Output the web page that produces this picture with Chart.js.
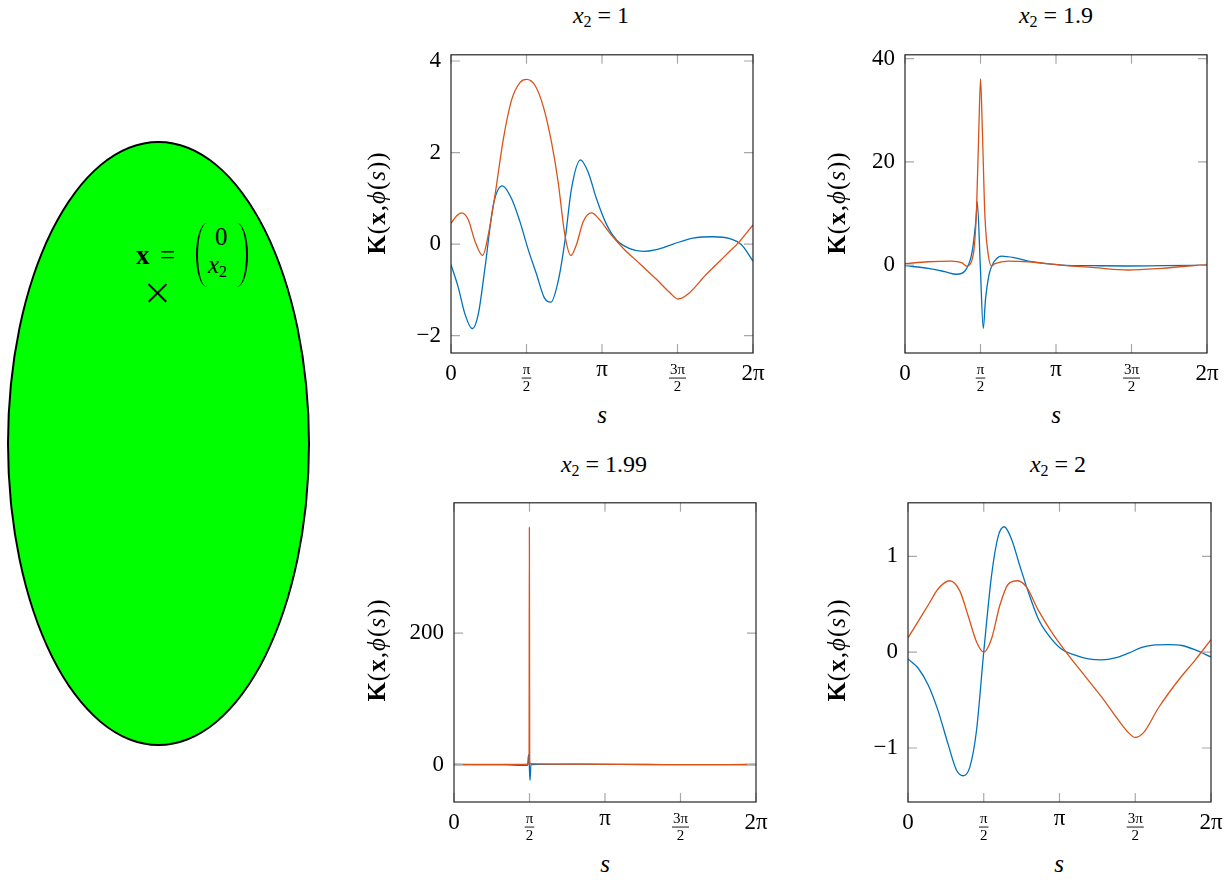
<!DOCTYPE html>
<html lang="en">
<head>
<meta charset="UTF-8" />
<title>K(x, φ(s)) for several x2</title>
<script src="https://cdn.jsdelivr.net/npm/chart.js"></script>
<style>
  body { margin: 0; background: #fff; font-family: 'Liberation Serif', serif; }
  #page { position: relative; width: 1232px; height: 882px; overflow: hidden; }
  canvas { position: absolute; }
  .lbl { position: absolute; white-space: nowrap; color: #000; line-height: 1; }
  .title { font-size: 24px; transform: translateX(-50%); }
  .title sub { font-size: 16px; vertical-align: -4px; }
  .title .eq { margin: 0 6px; }
  .xlab { font-size: 25px; font-style: italic; transform: translateX(-50%); }
  .ylab { font-size: 25px; transform: translate(-50%, -50%) rotate(-90deg); letter-spacing: 1px; }
  #ellipse {
    position: absolute; left: 7px; top: 141px; width: 303px; height: 605px;
    box-sizing: border-box; border: 2px solid #000; border-radius: 50%; background: #00ff00;
  }
  .paren { position: absolute; width: 11px; height: 64px; top: 223px; box-sizing: border-box; }
  .cross { position: absolute; left: 145px; top: 291.5px; width: 25px; height: 1.7px; background: #000; }
</style>
</head>
<body>
<div id="page">
  <div id="ellipse"></div>
  <!-- point label inside the domain -->
  <span class="lbl" style="left:136px; top:242px; font-size:27px; font-weight:bold;">x</span>
  <span class="lbl" style="left:160px; top:242px; font-size:27px;">=</span>
  <div class="paren" style="left:196px; border-left:2.2px solid #000; border-radius:11px 0 0 11px / 32px 0 0 32px;"></div>
  <span class="lbl" style="left:215px; top:224px; font-size:25px;">0</span>
  <span class="lbl" style="left:208px; top:252px; font-size:25px; font-style:italic;">x<sub style="font-size:16px; font-style:normal; vertical-align:-4px;">2</sub></span>
  <div class="paren" style="left:237px; border-right:2.2px solid #000; border-radius:0 11px 11px 0 / 0 32px 32px 0;"></div>
  <div class="cross" style="transform:rotate(45deg);"></div>
  <div class="cross" style="transform:rotate(-45deg);"></div>

  <canvas id="c1"></canvas>
  <canvas id="c2"></canvas>
  <canvas id="c3"></canvas>
  <canvas id="c4"></canvas>

  <span class="lbl title" style="left:601px; top:3px;"><i>x</i><sub>2</sub><span class="eq">=</span>1</span>
  <span class="lbl title" style="left:1056px; top:3px;"><i>x</i><sub>2</sub><span class="eq">=</span>1.9</span>
  <span class="lbl title" style="left:604px; top:452px;"><i>x</i><sub>2</sub><span class="eq">=</span>1.99</span>
  <span class="lbl title" style="left:1058px; top:452px;"><i>x</i><sub>2</sub><span class="eq">=</span>2</span>

  <span class="lbl xlab" style="left:602px; top:402px;">s</span>
  <span class="lbl xlab" style="left:1056px; top:402px;">s</span>
  <span class="lbl xlab" style="left:605px; top:851px;">s</span>
  <span class="lbl xlab" style="left:1059px; top:851px;">s</span>

  <span class="lbl ylab" style="left:376px; top:203px;"><b>K</b>(<b>x</b>,<i>ϕ</i>(<i>s</i>))</span>
  <span class="lbl ylab" style="left:836px; top:203px;"><b>K</b>(<b>x</b>,<i>ϕ</i>(<i>s</i>))</span>
  <span class="lbl ylab" style="left:376px; top:650px;"><b>K</b>(<b>x</b>,<i>ϕ</i>(<i>s</i>))</span>
  <span class="lbl ylab" style="left:836px; top:650px;"><b>K</b>(<b>x</b>,<i>ϕ</i>(<i>s</i>))</span>
</div>

<script>
  // x axis (s in radians)
  const xTickValues = [0, Math.PI / 2, Math.PI, 3 * Math.PI / 2, 2 * Math.PI];
  const xTickLabels = ['0', 'π/2', 'π', '3π/2', '2π'];

  // x2 = 1
  const s1Blue = [0, 0.152, 0.291, 0.443, 0.568, 0.707, 0.880, 1.067, 1.261, 1.434, 1.607, 1.780, 1.940, 2.078, 2.230, 2.369, 2.507, 2.694, 2.854, 3.027, 3.235, 3.443, 3.720, 3.997, 4.274, 4.620, 5.036, 5.452, 5.798, 6.040, 6.283];
  const k1Blue = [-0.45, -0.95, -1.53, -1.85, -1.53, -0.52, 0.85, 1.27, 0.99, 0.49, -0.12, -0.66, -1.17, -1.27, -0.81, 0.06, 1.21, 1.84, 1.57, 0.99, 0.43, 0.09, -0.10, -0.16, -0.12, 0, 0.13, 0.16, 0.12, -0.01, -0.37];
  const s1Red = [0, 0.118, 0.222, 0.360, 0.499, 0.658, 0.776, 0.914, 1.088, 1.261, 1.434, 1.573, 1.746, 1.919, 2.092, 2.230, 2.369, 2.494, 2.611, 2.750, 2.923, 3.096, 3.304, 3.581, 3.928, 4.274, 4.551, 4.724, 4.932, 5.313, 5.729, 6.006, 6.283];
  const k1Red = [0.45, 0.62, 0.68, 0.53, 0.06, -0.25, 0.20, 1.06, 2.29, 3.15, 3.53, 3.60, 3.47, 3.01, 2.22, 1.35, 0.20, -0.25, -0.01, 0.49, 0.68, 0.53, 0.24, -0.09, -0.43, -0.77, -1.06, -1.20, -1.09, -0.66, -0.23, 0.06, 0.42];
  const yTicks1 = [-2, 0, 2, 4];

  // x2 = 1.9
  const s2Blue = [0, 0.485, 0.831, 1.074, 1.247, 1.385, 1.440, 1.482, 1.503, 1.566, 1.628, 1.676, 1.745, 1.815, 2.009, 2.286, 2.563, 3.256, 3.948, 4.641, 5.334, 6.283];
  const k2Blue = [-0.13, -0.64, -1.28, -1.79, -1.15, 2.0, 5.5, 9.5, 12.3, 0, -12.3, -6.5, -2.0, 0, 1.73, 1.4, 0.77, 0, -0.13, -0.19, -0.13, -0.06];
  const s2Red = [0, 0.485, 0.970, 1.178, 1.282, 1.420, 1.489, 1.538, 1.572, 1.607, 1.662, 1.732, 1.801, 1.870, 2.147, 2.563, 3.256, 3.948, 4.641, 5.334, 6.283];
  const k2Red = [0.26, 0.64, 0.77, 0.45, -0.2, 2.0, 11, 27, 36.1, 27, 9.7, 2.0, -0.2, 0.26, 0.77, 0.64, 0, -0.5, -0.96, -0.64, 0.13];
  const yTicks2 = [0, 20, 40];

  // x2 = 1.99
  const s3Blue = [0, 1.0, 1.53, 1.552, 1.566, 1.582, 1.60, 2.5, 4.5, 6.283];
  const k3Blue = [0, -0.3, -1.2, 15, 0, -24, 0, 0.5, -0.3, 0];
  const s3Red = [0, 1.3, 1.55, 1.562, 1.568, 1.575, 1.59, 2.5, 4.0, 5.0, 6.283];
  const k3Red = [0, 0, 0.5, 6, 361, 6, 1.2, 0.5, 0, -0.3, 0];
  const yTicks3 = [0, 200];

  // x2 = 2
  const s4Blue = [0, 0.208, 0.416, 0.623, 0.831, 1.004, 1.143, 1.282, 1.420, 1.572, 1.732, 1.870, 1.995, 2.147, 2.320, 2.494, 2.701, 2.909, 3.186, 3.464, 3.741, 4.018, 4.295, 4.572, 4.849, 5.126, 5.403, 5.680, 5.957, 6.283];
  const k4Blue = [-0.07, -0.165, -0.34, -0.61, -0.96, -1.23, -1.29, -1.20, -0.82, 0.01, 0.80, 1.21, 1.31, 1.18, 0.90, 0.63, 0.35, 0.18, 0.03, -0.03, -0.07, -0.08, -0.06, -0.01, 0.05, 0.076, 0.08, 0.07, 0.024, -0.05];
  const s4Red = [0, 0.208, 0.416, 0.623, 0.866, 1.074, 1.247, 1.420, 1.572, 1.732, 1.905, 2.078, 2.272, 2.459, 2.701, 2.979, 3.325, 3.671, 4.018, 4.364, 4.572, 4.710, 4.884, 5.195, 5.611, 5.957, 6.283];
  const k4Red = [0.15, 0.32, 0.49, 0.66, 0.746, 0.64, 0.38, 0.11, 0, 0.14, 0.49, 0.71, 0.746, 0.68, 0.44, 0.21, -0.03, -0.25, -0.47, -0.71, -0.84, -0.89, -0.84, -0.58, -0.29, -0.08, 0.13];
  const yTicks4 = [-1, 0, 1];

  const BLUE = '#0072BD';
  const RED = '#D95319';
  const FONT = "'Liberation Serif', serif";

  const framePlugin = {
    id: 'frame',
    afterDraw(chart) {
      const { ctx, chartArea: a, scales: { x, y } } = chart;
      ctx.save();
      // inward tick marks on all four sides
      ctx.strokeStyle = '#a8a8a8';
      ctx.lineWidth = 1.2;
      ctx.beginPath();
      xTickValues.forEach(v => {
        const px = x.getPixelForValue(v);
        ctx.moveTo(px, a.bottom); ctx.lineTo(px, a.bottom - 9);
        ctx.moveTo(px, a.top); ctx.lineTo(px, a.top + 9);
      });
      y.ticks.forEach(t => {
        const py = y.getPixelForValue(t.value);
        ctx.moveTo(a.left, py); ctx.lineTo(a.left + 9, py);
        ctx.moveTo(a.right, py); ctx.lineTo(a.right - 9, py);
      });
      ctx.stroke();
      ctx.strokeStyle = '#262626';
      ctx.lineWidth = 1.2;
      ctx.strokeRect(a.left, a.top, a.width, a.height);

      // x tick labels, fractions stacked
      ctx.fillStyle = '#000';
      ctx.textAlign = 'center';
      ctx.textBaseline = 'alphabetic';
      xTickLabels.forEach((lab, i) => {
        const px = x.getPixelForValue(xTickValues[i]);
        if (lab.includes('/')) {
          const [num, den] = lab.split('/');
          ctx.font = '15px ' + FONT;
          const bar = a.bottom + 25;
          const w = Math.max(ctx.measureText(num).width, ctx.measureText(den).width) + 2;
          ctx.fillText(num, px, bar - 4);
          ctx.fillText(den, px, bar + 13);
          ctx.fillRect(px - w / 2, bar - 0.4, w, 0.9);
        } else {
          ctx.font = '23px ' + FONT;
          const m = ctx.measureText(lab);
          ctx.fillText(lab, px, a.bottom + 12 + m.actualBoundingBoxAscent);
        }
      });
      ctx.restore();
    }
  };

  // orange is listed first so Chart.js paints it on top of the blue curve
  function series(s, k, color) {
    return {
      data: s.map((v, i) => ({ x: v, y: k[i] })),
      borderColor: color,
      borderWidth: 1.3,
      pointRadius: 0,
      cubicInterpolationMode: 'monotone',
      fill: false
    };
  }

  function fmt(v) {
    return v < 0 ? '\u2212' + Math.abs(v) : String(v);
  }

  function makePanel(id, box, yMin, yMax, yTicks, datasets) {
    const cv = document.getElementById(id);
    const w = box.r - box.l, h = box.b - box.t;
    cv.width = w + 110;
    cv.height = h + 65;
    cv.style.left = (box.l - 90) + 'px';
    cv.style.top = (box.t - 20) + 'px';
    new Chart(cv, {
      type: 'line',
      data: { datasets },
      plugins: [framePlugin],
      options: {
        responsive: false,
        animation: false,
        layout: { padding: { left: 0, top: 20, right: 20, bottom: 0 } },
        plugins: { legend: { display: false }, tooltip: { enabled: false } },
        scales: {
          x: {
            type: 'linear', min: 0, max: 2 * Math.PI,
            grid: { display: false, drawTicks: false },
            border: { display: false },
            ticks: { display: false },
            afterFit: s => { s.height = 45; }
          },
          y: {
            min: yMin, max: yMax,
            grid: { display: false, drawTicks: false },
            border: { display: false },
            ticks: { color: '#000', padding: 10, font: { family: FONT, size: 23 }, callback: fmt },
            afterBuildTicks: s => { s.ticks = yTicks.map(v => ({ value: v })); },
            afterFit: s => { s.width = 90; }
          }
        }
      }
    });
  }

  makePanel('c1', { l: 451, r: 753, t: 51, b: 353 }, -2.38, 4.136, yTicks1,
    [series(s1Red, k1Red, RED), series(s1Blue, k1Blue, BLUE)]);
  makePanel('c2', { l: 905, r: 1207, t: 51, b: 353 }, -17.05, 40.75, yTicks2,
    [series(s2Red, k2Red, RED), series(s2Blue, k2Blue, BLUE)]);
  makePanel('c3', { l: 454, r: 756, t: 499, b: 802 }, -57.1, 398.5, yTicks3,
    [series(s3Red, k3Red, RED), series(s3Blue, k3Blue, BLUE)]);
  makePanel('c4', { l: 908, r: 1211, t: 499, b: 802 }, -1.564, 1.56, yTicks4,
    [series(s4Red, k4Red, RED), series(s4Blue, k4Blue, BLUE)]);
</script>
</body>
</html>
